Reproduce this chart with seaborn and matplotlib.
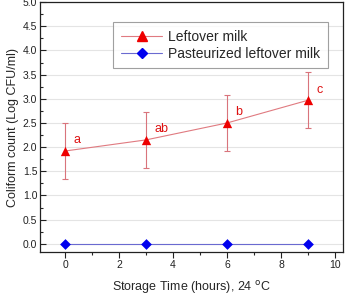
import matplotlib
matplotlib.use("Agg")
import matplotlib.pyplot as plt
import seaborn as sns
import pandas as pd
from matplotlib.ticker import MultipleLocator
from matplotlib.lines import Line2D

time_h = [0, 3, 6, 9]
leftover = [1.92, 2.15, 2.50, 2.97]
leftover_err = [0.58, 0.58, 0.57, 0.58]
pasteurized = [0.0, 0.0, 0.0, 0.0]
letters = ["a", "ab", "b", "c"]

sns.set_theme(style="white")
plt.rcParams['font.family'] = ['Liberation Sans', 'DejaVu Sans']

fig = plt.figure(figsize=(3.46, 2.99), dpi=100)
ax = fig.add_axes([0.1156, 0.157, 0.876, 0.836])

df = pd.DataFrame({"t": time_h * 2,
                   "v": leftover + pasteurized,
                   "s": ["Leftover milk"] * 4 + ["Pasteurized leftover milk"] * 4})

ax.errorbar(time_h, leftover, yerr=leftover_err, fmt='none', ecolor='#d9747c',
            elinewidth=0.8, capsize=2.5, capthick=0.8, zorder=2)
sns.lineplot(data=df, x="t", y="v", hue="s", style="s",
             palette={"Leftover milk": "#e07a80", "Pasteurized leftover milk": "#6a6ad0"},
             markers={"Leftover milk": "^", "Pasteurized leftover milk": "D"},
             dashes=False, linewidth=0.8, markersize=0, ax=ax, legend=False, zorder=3)
ax.scatter(time_h, leftover, marker='^', s=45, color='#ee0000', zorder=4, linewidths=0)
ax.scatter(time_h, pasteurized, marker='D', s=30, color='#0000ee', zorder=4, linewidths=0)

for x, y, l in zip(time_h, leftover, letters):
    ax.text(x + 0.3, y + 0.22, l, color='#dd1111', fontsize=9, ha='left', va='center')

handles = [Line2D([], [], color='#e07a80', lw=0.8, marker='^', markersize=7,
                  markerfacecolor='#ee0000', markeredgecolor='#ee0000'),
           Line2D([], [], color='#6a6ad0', lw=0.8, marker='D', markersize=5,
                  markerfacecolor='#0000ee', markeredgecolor='#0000ee')]
leg = ax.legend(handles, ["Leftover milk", "Pasteurized leftover milk"],
                loc='upper left', bbox_to_anchor=(0.241, 0.92), fontsize=10,
                frameon=True, fancybox=False, handlelength=3.0, borderpad=0.55,
                labelspacing=0.2, handletextpad=0.4, borderaxespad=0)
leg.get_frame().set_edgecolor('#888888')
leg.get_frame().set_linewidth(0.8)

ax.set_xlim(-0.93, 10.3)
ax.set_ylim(-0.17, 5.0)
ax.xaxis.set_major_locator(MultipleLocator(2))
ax.xaxis.set_minor_locator(MultipleLocator(1))
ax.yaxis.set_major_locator(MultipleLocator(0.5))
ax.yaxis.set_minor_locator(MultipleLocator(0.25))
ax.grid(axis='y', color='#e4e4e4', linewidth=0.8)
ax.set_axisbelow(True)
ax.tick_params(axis='x', which='major', direction='out', length=4, width=0.8, labelsize=7.5, colors='#222222', pad=2)
ax.tick_params(axis='x', which='minor', direction='out', length=2, width=0.8)
ax.tick_params(axis='y', which='major', direction='in', length=4, width=0.8, labelsize=7.5, colors='#222222', pad=2)
ax.tick_params(axis='y', which='minor', direction='in', length=2, width=0.8)
ax.tick_params(which='both', bottom=True, left=True)
ax.yaxis.set_major_formatter(matplotlib.ticker.FormatStrFormatter('%.1f'))
for s in ax.spines.values():
    s.set_color('#222222')
    s.set_linewidth(0.9)

ax.set_xlabel("Storage Time (hours), 24 $^{\\rm o}$C", fontsize=9, labelpad=6)
ax.set_ylabel("Coliform count (Log CFU/ml)", fontsize=9, labelpad=3)

fig.savefig("out.png", dpi=100)
